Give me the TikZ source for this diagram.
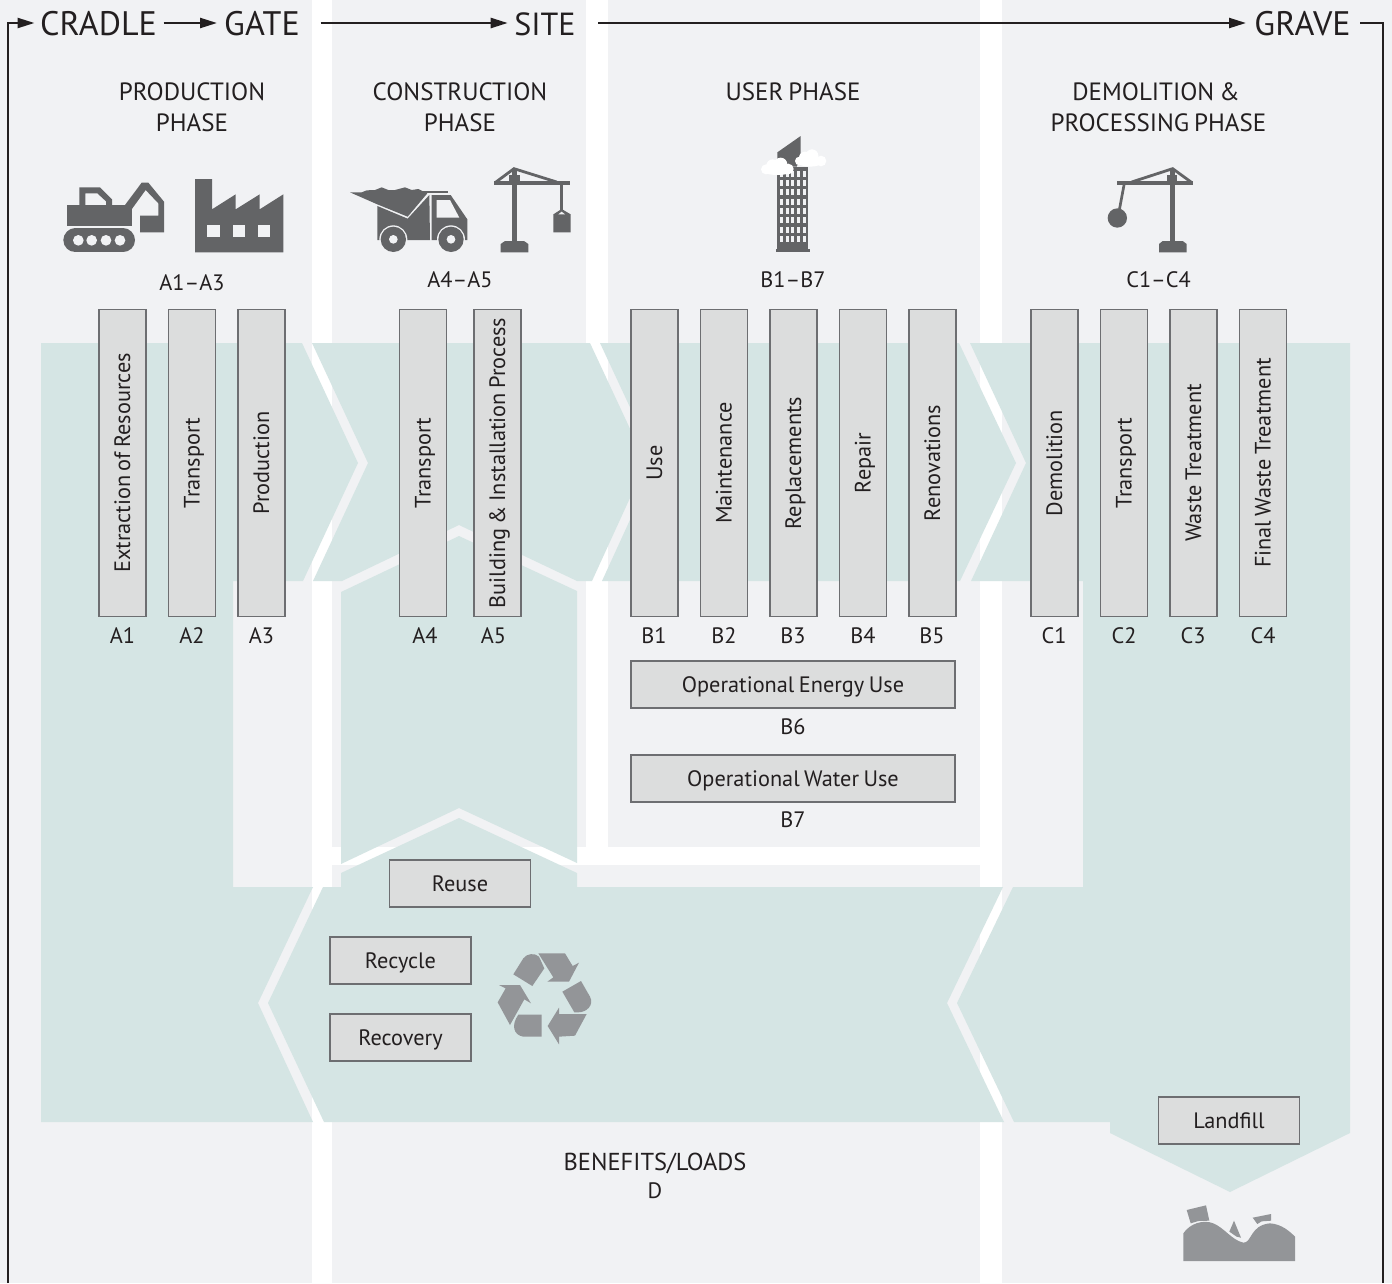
\documentclass[tikz,border=0pt]{standalone}
\usepackage{fontspec}
\setmainfont[WordSpace=0.75]{PT Sans}
\usetikzlibrary{arrows.meta}
\definecolor{lightbg}{HTML}{F1F2F4}
\definecolor{teal}{HTML}{D5E5E4}
\definecolor{barfill}{HTML}{DCDDDD}
\definecolor{barline}{HTML}{6D6E71}
\definecolor{ink}{HTML}{231F20}
\definecolor{icondark}{HTML}{636466}
\definecolor{iconmid}{HTML}{939598}
\tikzset{
 bgpart/.style={fill=lightbg,draw=none},
 flow/.style={fill=teal,draw=none},
 barbox/.style={draw=barline,line width=1.3pt,fill=barfill,inner sep=0pt,text=ink,font=\fontsize{22.3}{27}\selectfont,text height=20pt,text depth=5pt},
 vbar/.style={barbox,rotate=90,minimum width=307pt,minimum height=47pt},
 hbar/.style={barbox,minimum width=141pt,minimum height=47pt},
 lab/.style={text=ink,font=\fontsize{22.3}{27}\selectfont,inner sep=0pt,anchor=base},
 phase/.style={text=ink,font=\fontsize{25}{30}\selectfont,inner sep=0pt,anchor=base},
 note/.style={text=ink,font=\fontsize{24.5}{30}\selectfont,inner sep=0pt,anchor=base},
 stage/.style={text=ink,font=\fontsize{34}{38}\selectfont,inner sep=0pt,anchor=base},
 route/.style={draw=ink,line width=2.3pt},
 routearrow/.style={route,-{Triangle[length=17pt,width=10pt]}},
 idark/.style={fill=icondark,draw=none},
 imid/.style={fill=iconmid,draw=none},
 ilight/.style={fill=lightbg,draw=none},
 icon/.style={x=0.33333pt,y=-0.33333pt}
}
\begin{document}
\begin{tikzpicture}[x=1pt,y=-1pt]
\useasboundingbox (0,0) rectangle (1392,1283);
\fill[white] (0,0) rectangle (1392,1283);
% column backgrounds
\path[bgpart] (0,0) rectangle (312,1283);
\path[bgpart] (332,0) rectangle (586,847);
\path[bgpart] (608,0) rectangle (980,847);
\path[bgpart] (332,865) rectangle (980,1283);
\path[bgpart] (1002,0) rectangle (1392,1283);
% flow regions
\path[flow] (41,343)--(302,343)--(358,463)--(303,581)--(233,581)--(233,887)--(313,887)--(258,1003)--(313,1122)--(41,1122)--cycle;
\path[flow] (312,343)--(590,343)--(646,463)--(592,581)--(577,581)--(459,525)--(342,581)--(313,581)--(368,463)--cycle;
\path[flow] (600,343)--(959,343)--(1016,463)--(960,581)--(602,581)--(656,463)--cycle;
\path[flow] (970,343)--(1350,343)--(1350,1133)--(1230,1192)--(1110,1133)--(1110,1122)--(1014,1122)--(957,1003)--(1013,887)--(1083,887)--(1083,581)--(971,581)--(1026,463)--cycle;
\path[flow] (341,592)--(459,536)--(577,591)--(577,863)--(459,808)--(341,864)--cycle;
\path[flow] (323,887)--(341,887)--(341,873)--(459,818)--(577,873)--(577,887)--(1003,887)--(947,1003)--(1004,1122)--(324,1122)--(268,1003)--cycle;
% top route
\node[stage] (cradle) at (98.5,35) {CRADLE};
\node[stage] (gate) at (262,35) {GATE};
\node[stage,font=\fontsize{32}{38}\selectfont] (site) at (545,35) {SITE};
\node[stage] (grave) at (1302.5,35) {GRAVE};
\coordinate (loopL) at (8,1283);
\coordinate (loopLt) at (8,23);
\coordinate (a1) at (34.5,23);
\coordinate (b0) at (163.6,23);
\coordinate (b1) at (217,23);
\coordinate (c0) at (320.7,23);
\coordinate (c1) at (507.7,23);
\coordinate (d0) at (598,23);
\coordinate (d1) at (1246,23);
\coordinate (e0) at (1360,23);
\coordinate (e1) at (1383,23);
\coordinate (e2) at (1383,1283);
\draw[routearrow] (loopL)--(loopLt)--(a1);
\draw[routearrow] (b0)--(b1);
\draw[routearrow] (c0)--(c1);
\draw[routearrow] (d0)--(d1);
\draw[route] (e0)--(e1)--(e2);
% phases
\node[phase] (ph1a) at (192,100) {PRODUCTION};
\node[phase] (ph1b) at (192,131) {PHASE};
\node[phase] (ph2a) at (460,100) {CONSTRUCTION};
\node[phase] (ph2b) at (460,131) {PHASE};
\node[phase] (ph3) at (793,100) {USER PHASE};
\node[phase] (ph4a) at (1156,100) {DEMOLITION \&};
\node[phase] (ph4b) at (1158.5,131) {PROCESSING PHASE};
\node[lab] (ga) at (192,290) {A1–A3};
\node[lab] (gb) at (460,287) {A4–A5};
\node[lab] (gc) at (793,287) {B1–B7};
\node[lab] (gd) at (1158.5,287) {C1–C4};
% bars
\node[vbar] (A1) at (122.5,463) {Extraction of Resources};
\node[vbar] (A2) at (192,463) {Transport};
\node[vbar] (A3) at (261.5,463) {Production};
\node[vbar] (A4) at (423,463) {Transport};
\node[vbar] (A5) at (497.5,463) {Building \& Installation Process};
\node[vbar] (B1) at (654.5,463) {Use};
\node[vbar] (B2) at (724,463) {Maintenance};
\node[vbar] (B3) at (793.5,463) {Replacements};
\node[vbar] (B4) at (863,463) {Repair};
\node[vbar] (B5) at (932.5,463) {Renovations};
\node[vbar] (C1) at (1054.5,463) {Demolition};
\node[vbar] (C2) at (1124,463) {Transport};
\node[vbar] (C3) at (1193.5,463) {Waste Treatment};
\node[vbar] (C4) at (1263,463) {Final Waste Treatment};
\foreach \n/\x in {A1/122.5,A2/192,A3/261.5,A4/425,A5/493.5,B1/654,B2/724,B3/793,B4/863,B5/932,C1/1054,C2/1124,C3/1193,C4/1263}
  \node[lab] (l\n) at (\x,643) {\n};
\node[hbar,minimum width=324pt] (B6) at (793,684.5) {Operational Energy Use};
\node[lab] (lB6) at (793,734) {B6};
\node[hbar,minimum width=324pt] (B7) at (793,778.5) {Operational Water Use};
\node[lab] (lB7) at (793,827) {B7};
\node[hbar] (reuse) at (460,883.5) {Reuse};
\node[hbar] (recycle) at (400.5,960.5) {Recycle};
\node[hbar] (recovery) at (400.5,1037.5) {Recovery};
\node[hbar] (landfill) at (1229,1120.5) {Landfill};
\node[note] (benefits) at (655,1170) {BENEFITS/LOADS};
\node[lab] (dlab) at (655,1198) {D};
% excavator and factory
\begin{scope}[shift={(40,170)},icon]
\path[idark] (82,105) rectangle (275,168);
\path[idark] (118,105)--(118,52)--(180,52)--(216,88)--(216,105)--(198,105)--(198,94)--(172,70)--(136,70)--(136,105)--cycle;
\path[idark] (255,105)--(305,38)--(325,38)--(372,95)--(372,187)--(300,187)--(300,137)--(355,137)--(355,100)--(317,60)--(275,118)--(275,125)--cycle;
\draw[icondark,line width=24pt,line cap=round] (106,211)--(249,211);
\foreach \x in {115,155,198,240} \path[ilight] (\x,211) circle (16);
\path[idark] (465,27)--(516,27)--(516,118)--(587,73)--(587,118)--(659,73)--(659,118)--(730,73)--(730,247)--(465,247)--cycle;
\foreach \x in {502,578,654} \path[ilight] (\x,164) rectangle (\x+37,201);
\end{scope}
% truck and crane
\begin{scope}[shift={(340,160)},icon]
\path[idark] (30,97)--(65,97)--(80,91)--(105,90)--(125,82)--(145,90)--(165,90)--(195,82)--(215,90)--(235,87)--(245,92)--(262,100)--(203,170)--(112,133)--cycle;
\path[idark] (245,92) rectangle (325,100);
\path[idark] (112,138)--(203,176)--(268,105)--(270,240)--(112,240)--cycle;
\path[idark] (275,105)--(332,105)--(382,178)--(382,240)--(275,240)--cycle;
\path[ilight] (290,120)--(330,120)--(358,173)--(290,173)--cycle;
\foreach \x in {160,333} {
 \path[ilight] (\x,238) circle (42);
 \path[idark] (\x,238) circle (38);
 \path[ilight] (\x,238) circle (13);
}
\path[idark] (515,30) rectangle (530,250);
\path[idark] (482,252)--(495,243)--(552,243)--(565,252)--(565,277)--(482,277)--cycle;
\path[idark] (462,62) rectangle (690,75);
\path[idark] (508,45) rectangle (540,62);
\draw[icondark,line width=2.8pt,line join=miter] (468,66)--(522,26)--(650,66);
\path[idark] (660,75) rectangle (668,150);
\path[idark] (640,163)--(665,147)--(692,163)--(692,217)--(640,217)--cycle;
\path[ilight] (655,163)--(665,155)--(675,163)--cycle;
\end{scope}
% tower
\begin{scope}[shift={(740,125)},icon]
\path[idark] (112,125) rectangle (203,372);
\path[idark] (108,372) rectangle (210,382);
\path[idark] (112,82)--(182,33)--(182,100)--(170,125)--(125,125)--(112,100)--cycle;
\foreach \y in {137,165,193,221,249,277,305,333}
 \foreach \x in {120,137,154,172,190}
  \path[ilight] (\x,\y) rectangle (\x+9,\y+18);
\path[fill=white] (78,133) circle (15) (98,122) circle (19) (122,118) circle (20) (145,132) circle (16) (112,136) ellipse (46 and 14);
\path[fill=white] (178,108) circle (13) (195,98) circle (18) (216,92) circle (19) (243,108) circle (16) (210,112) ellipse (36 and 13);
\end{scope}
% wrecking crane
\begin{scope}[shift={(1090,160)},icon]
\path[idark] (241,30) rectangle (256,250);
\path[idark] (207,252)--(218,243)--(278,243)--(290,252)--(290,277)--(207,277)--cycle;
\path[idark] (82,62) rectangle (308,75);
\path[idark] (232,45) rectangle (262,62);
\draw[icondark,line width=2.8pt] (125,66)--(248,26)--(303,66);
\draw[icondark,line width=2.7pt] (102,75)--(88,150);
\path[idark] (82,174) circle (29);
\end{scope}
% recycling symbol
\begin{scope}[shift={(485,940)},icon]
\path[imid] (85,103)--(115,55)..controls (125,40) and (150,38) ..(162,50)--(178,85)--(142,138)--cycle;
\path[imid] (160,40)--(240,40)--(263,78)--(282,68)--(252,125)--(187,125)--(205,112)--cycle;
\path[imid] (232,155)--(288,123)--(315,170)..controls (328,195) and (305,217) ..(280,217)--(268,217)--cycle;
\path[imid] (305,222)--(270,287)--(222,290)--(222,313)--(188,258)--(222,203)--(222,222)--cycle;
\path[imid] (170,224)--(170,290)--(115,290)..controls (85,285) and (78,255) ..(100,224)--cycle;
\path[imid] (75,255)--(38,187)--(62,145)--(42,135)--(105,135)--(138,190)--(118,178)--cycle;
\end{scope}
% landfill
\begin{scope}[shift={(1170,1190)},icon]
\path[imid] (40,213)--(40,130)..controls (60,100) and (100,88) ..(130,100)..controls (165,115) and (185,150) ..(220,158)..controls (245,160) and (240,105) ..(300,100)..controls (335,102) and (360,125) ..(375,140)--(375,213)--cycle;
\path[imid] (50,60)--(108,46)--(118,92)--(85,93)--(62,100)--cycle;
\path[imid] (178,125)--(192,92)--(213,143)--(200,140)--cycle;
\path[imid] (248,83)--(303,72)--(303,92)--(275,94)--(262,102)--cycle;
\end{scope}
\end{tikzpicture}
\end{document}
